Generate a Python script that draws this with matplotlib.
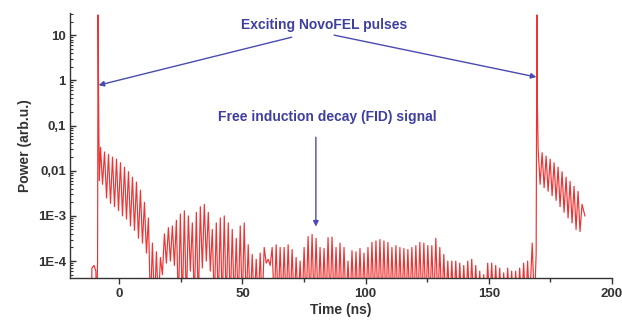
import numpy as np
import matplotlib.pyplot as plt
from matplotlib.ticker import FixedLocator, LogLocator, NullFormatter, MultipleLocator

plt.rcParams['font.family'] = ['Liberation Sans', 'DejaVu Sans']
plt.rcParams['font.weight'] = 'bold'

# first exciting pulse (time in ns, power in arb.u.)
pulse1_t = [-11.3, -11.1, -10.2, -9.5, -9.1, -8.8, -8.6, -8.4, -8.1]
pulse1_p = [1e-5, 7e-5, 8e-5, 6e-5, 1e-5, 1e-4, 28, 0.5, 0.006]

# FID after first pulse: oscillation maxima and minima
fid1_start = -7.6
osc_period = 1.62
fid1_peaks = [0.033, 0.026, 0.023, 0.020, 0.018, 0.015, 0.012, 0.0095, 0.0072, 0.0056,
              0.0037, 0.0020, 0.0009, 0.00025, 0.00016, 0.00012, 0.00040, 0.00055, 0.0006, 0.0008,
              0.0011, 0.0013, 0.0010, 0.0007, 0.0012, 0.0016, 0.0018, 0.0012, 0.0005, 0.0007,
              0.0009, 0.0010, 0.0007, 0.0005, 0.00032, 0.0006, 0.0007, 0.00023, 0.00014, 0.00011,
              0.00015, 0.0002, 0.00011, 0.0002, 0.00023, 0.0002, 0.0002, 0.00023, 0.00018, 0.00012,
              0.0001, 0.0002, 0.00035, 0.00039, 0.00032, 0.0002, 0.00019, 0.00033, 0.00034, 0.0002,
              0.00025, 0.0002, 0.0001, 0.00017, 0.00016, 0.00019, 0.00015, 0.0002, 0.00026, 0.00028,
              0.0003, 0.00028, 0.00026, 0.0002, 0.00022, 0.0002, 0.00019, 0.00018, 0.0002, 0.00022,
              0.00026, 0.00025, 0.00022, 0.00022, 0.00032, 0.0002, 0.00014, 0.0001, 0.0001, 0.0001,
              0.00009, 0.00008, 0.0001, 0.00011, 0.00008, 0.00006, 0.00005, 0.00009, 0.00009, 0.00008,
              0.00007, 0.000055, 0.00007, 0.00006, 0.00006, 0.00007, 0.00009, 0.0001]
fid1_troughs = [0.005, 0.0025, 0.0019, 0.0016, 0.0013, 0.001, 0.00085, 0.0006, 0.00048, 0.00032,
                0.00025, 0.00015, 1e-5, 1e-5, 1e-5, 5e-5, 9e-5, 1e-4, 8e-5, 1e-5,
                1e-5, 1e-5, 6e-5, 1e-5, 1e-5, 7e-5, 1e-4, 6e-5, 1e-5, 1e-5,
                1e-5, 1e-5, 1e-5, 1e-5, 1e-5, 1e-5, 1e-5, 1e-5, 1e-5, 1e-5,
                1e-5, 9e-5, 8e-5, 1e-5, 1e-5, 1e-5, 1e-5, 1e-5, 1e-5, 1e-5,
                1e-5, 1e-5, 1e-5, 1e-5, 1e-5, 1e-5, 1e-5, 1e-5, 1e-5, 1e-5,
                1e-5, 1e-5, 1e-5, 1e-5, 1e-5, 1e-5, 1e-5, 1e-5, 1e-5, 1e-5,
                1e-5, 1e-5, 1e-5, 1e-5, 1e-5, 1e-5, 1e-5, 1e-5, 1e-5, 1e-5,
                1e-5, 1e-5, 1e-5, 1e-5, 1e-5, 1e-5, 1e-5, 1e-5, 1e-5, 1e-5,
                1e-5, 1e-5, 1e-5, 1e-5, 1e-5, 1e-5, 1e-5, 1e-5, 1e-5, 1e-5,
                1e-5, 1e-5, 1e-5, 1e-5, 1e-5, 1e-5, 1e-5]

# second exciting pulse
pulse2_t = [166.5, 167.6, 168.5, 169.2, 169.5, 169.7]
pulse2_p = [1e-5, 2.5e-4, 1e-5, 1.5e-4, 28, 0.3]

# FID after second pulse
fid2_start = 170.0
fid2_peaks = [0.03, 0.025, 0.021, 0.018, 0.015, 0.012, 0.0095, 0.0072, 0.0058, 0.0045, 0.0035, 0.0018]
fid2_troughs = [0.005, 0.0042, 0.0035, 0.0028, 0.0022, 0.0016, 0.0012, 0.0009, 0.0007, 0.0005, 0.00045]
tail_t = [189.0]
tail_p = [0.001]


def zigzag(start, peaks, troughs):
    n = len(peaks)
    t = np.empty(2 * n - 1)
    p = np.empty(2 * n - 1)
    t[0::2] = start + osc_period * np.arange(n)
    t[1::2] = start + osc_period * (np.arange(n - 1) + 0.5)
    p[0::2] = peaks
    p[1::2] = troughs
    return t, p


f1_t, f1_p = zigzag(fid1_start, fid1_peaks, fid1_troughs)
f2_t, f2_p = zigzag(fid2_start, fid2_peaks, fid2_troughs)
time = np.concatenate([pulse1_t, f1_t, pulse2_t, f2_t, tail_t])
power = np.concatenate([pulse1_p, f1_p, pulse2_p, f2_p, tail_p])

fig = plt.figure(figsize=(6.22, 3.23), dpi=100)
ax = fig.add_axes([0.1125, 0.139, 0.8715, 0.821])
ax.plot(time, power, color='#f03232', lw=0.85)
ax.set_yscale('log')
ax.set_xlim(-20, 200)
ax.set_ylim(4.2e-5, 31)

ax.spines['top'].set_visible(False)
ax.spines['right'].set_visible(False)
for s in ['left', 'bottom']:
    ax.spines[s].set_linewidth(1.0)
    ax.spines[s].set_color('#333333')

ax.xaxis.set_major_locator(MultipleLocator(50))
ax.xaxis.set_minor_locator(MultipleLocator(25))
ax.yaxis.set_major_locator(FixedLocator([1e-4, 1e-3, 1e-2, 0.1, 1, 10]))
ax.set_yticklabels(['1E-4', '1E-3', '0,01', '0,1', '1', '10'])
ax.yaxis.set_minor_locator(LogLocator(base=10, subs=np.arange(2, 10)))
ax.yaxis.set_minor_formatter(NullFormatter())
ax.tick_params(axis='x', which='major', direction='out', length=4, width=1, color='#333333')
ax.tick_params(axis='x', which='minor', direction='out', length=3, width=1, color='#333333')
ax.tick_params(axis='y', which='major', direction='in', length=4, width=1, color='#333333')
ax.tick_params(axis='y', which='minor', direction='in', length=2, width=0.8, color='#333333')
ax.tick_params(labelsize=9.5, labelcolor='#333333', pad=3)

ax.set_xlabel('Time (ns)', fontsize=10, fontweight='bold', color='#333333', labelpad=2)
ax.set_ylabel('Power (arb.u.)', fontsize=10, fontweight='bold', color='#333333', labelpad=4)

blue = '#3f3fa0'
ax.text(83, 16.7, 'Exciting NovoFEL pulses', color=blue, fontsize=10, fontweight='bold',
        ha='center', va='center')
ax.text(84.3, 0.154, 'Free induction decay (FID) signal', color=blue, fontsize=10,
        fontweight='bold', ha='center', va='center')
arrow = dict(arrowstyle='-|>', color='#4a4ab0', lw=1, mutation_scale=8, shrinkA=0, shrinkB=0)
ax.annotate('', xy=(-8.4, 0.78), xytext=(70, 9.0), arrowprops=arrow)
ax.annotate('', xy=(169.3, 1.18), xytext=(87.2, 10), arrowprops=arrow)
ax.annotate('', xy=(79.8, 5.8e-4), xytext=(79.8, 0.055), arrowprops=arrow)

fig.savefig('out.png', dpi=100)
